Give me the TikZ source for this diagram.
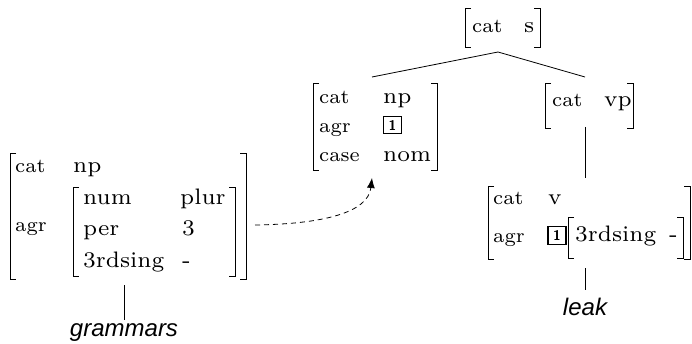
\documentclass[tikz,border=0pt]{standalone}
\usepackage{graphicx}
\usepackage{fontspec}
\newfontfamily\lexfont{Liberation Sans}
\usetikzlibrary{arrows.meta}
\newcommand\LBrk[3]{\draw[brk] ({#1+6},#2) -- (#1,#2) -- (#1,#3) -- ({#1+6},#3);}
\newcommand\RBrk[3]{\draw[brk] ({#1-6},#2) -- (#1,#2) -- (#1,#3) -- ({#1-6},#3);}
\newcommand\At[1]{\scalebox{2.85}{\fontsize{7}{8}\selectfont #1}}
\newcommand\Vl[1]{\scalebox{3.2}{\fontsize{7}{8}\selectfont #1}}
\tikzset{
  brk/.style={line width=0.9pt, line join=miter},
  attr/.style={anchor=base west, inner sep=0pt},
  val/.style={anchor=base west, inner sep=0pt},
  tag/.style={draw, line width=1.5pt, inner sep=0pt, minimum width=18pt, minimum height=17pt,
              font=\sffamily\bfseries\fontsize{14}{14}\selectfont},
  lex/.style={anchor=base, inner sep=0pt, font=\lexfont\itshape\fontsize{24}{28}\selectfont},
  edge/.style={line width=0.8pt},
}
\begin{document}
\begin{tikzpicture}[x=1pt,y=-1pt]
\useasboundingbox (0,0) rectangle (692,344);

% ---- top [cat s]
\LBrk{465}{8}{47}
\RBrk{540}{8}{47}
\node[attr] (sCat) at (472,33) {\At{cat}};
\node[val]  (sVal) at (524,33) {\Vl{s}};

% ---- middle [cat np / agr 1 / case nom]
\LBrk{313}{83}{170}
\RBrk{437}{83}{170}
\node[attr] (nCat) at (319,104) {\At{cat}};
\node[val]  (nVal) at (383,104) {\Vl{np}};
\node[attr] (nAgr) at (319,133) {\At{agr}};
\node[tag]  (nTag) at (392.5,125) {1};
\node[attr] (nCase) at (319,162) {\At{case}};
\node[val]  (nNom) at (383,162) {\Vl{nom}};

% ---- [cat vp]
\LBrk{545}{83}{128}
\RBrk{633}{83}{128}
\node[attr] (vpCat) at (552,107) {\At{cat}};
\node[val]  (vpVal) at (604,107) {\Vl{vp}};

% ---- bottom right [cat v / agr 1 [3rdsing -]]
\LBrk{488}{186}{259}
\RBrk{690}{186}{259}
\node[attr] (vCat) at (493,205) {\At{cat}};
\node[val]  (vVal) at (548,205) {\Vl{v}};
\node[attr] (vAgr) at (493,243) {\At{agr}};
\node[tag, minimum height=18pt] (vTag) at (557,235.5) {1};
\LBrk{568}{217}{258}
\RBrk{683}{217}{258}
\node[val]  (vSing) at (575,242) {\Vl{3rdsing}};
\node[val]  (vMinus) at (669,242) {\Vl{-}};

% ---- left [cat np / agr [num plur / per 3 / 3rdsing -]]
\LBrk{10}{153}{279}
\RBrk{246}{153}{279}
\node[attr] (gCat) at (15,173) {\At{cat}};
\node[val]  (gVal) at (73,173) {\Vl{np}};
\node[attr] (gAgr) at (15,232) {\At{agr}};
\LBrk{73}{187}{276}
\RBrk{235}{187}{276}
\node[val] (gNum)  at (83,205) {\Vl{num}};
\node[val] (gPlur) at (180,205) {\Vl{plur}};
\node[val] (gPer)  at (83,236) {\Vl{per}};
\node[val] (gThree) at (182,236) {\Vl{3}};
\node[val] (gSing) at (83,267) {\Vl{3rdsing}};
\node[val] (gMinus) at (182,267) {\Vl{-}};

% ---- words
\node[lex] (leak) at (585,315) {leak};
\node[lex] (grammars) at (124,336) {grammars};

% ---- connector points
\coordinate (sBot)  at (498,52);
\coordinate (npTop) at (372,77);
\coordinate (vpTop) at (585,77);
\coordinate (vpBot) at (585,127);
\coordinate (vTop)  at (585,178);
\coordinate (vBot)  at (585,268);
\coordinate (leakTop) at (585,290);
\coordinate (gBot)  at (124,285);
\coordinate (gramTop) at (124,320);
\coordinate (gRight) at (255,225);
\coordinate (npBot) at (372,178);

\draw[edge] (npTop) -- (sBot) -- (vpTop);
\draw[edge] (vpBot) -- (vTop);
\draw[edge] (vBot) -- (leakTop);
\draw[edge] (gBot) -- (gramTop);
\draw[edge, dash pattern=on 5pt off 4pt, -{Latex[length=10pt,width=8pt]}]
  (gRight) .. controls (322,224) and (368,213) .. (npBot);
\end{tikzpicture}
\end{document}
